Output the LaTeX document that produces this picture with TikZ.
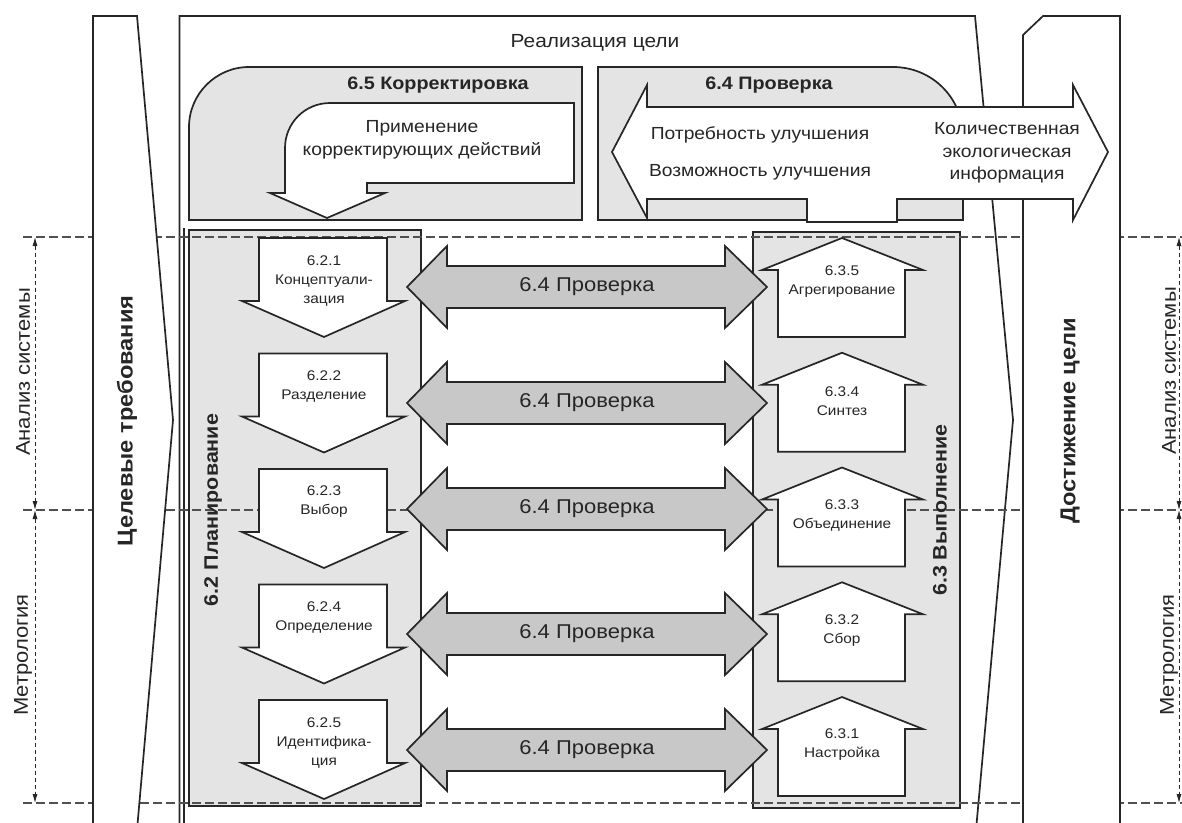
\documentclass[tikz,border=0pt]{standalone}
\usepackage{fontspec}
\setmainfont{Liberation Sans}[FakeStretch=1.1]
\usetikzlibrary{arrows.meta}
\definecolor{ink}{HTML}{262626}
\definecolor{boxgray}{HTML}{E4E4E4}
\definecolor{arrgray}{HTML}{C8C8C8}
\definecolor{dashc}{HTML}{505050}
\begin{document}
\begin{tikzpicture}[x=1pt,y=-1pt,
  outl/.style={draw=ink, line width=1.7pt, line join=miter},
  dashl/.style={draw=dashc, line width=1.1pt, dash pattern=on 9pt off 4pt},
  diml/.style={draw=ink, line width=0.8pt, dash pattern=on 4pt off 3pt},
  txt/.style={inner sep=0pt, text=ink, align=center},
  smalltxt/.style={txt, font=\fontsize{14}{19}\selectfont},
  midtxt/.style={txt, font=\fontsize{17.5}{22.5}\selectfont},
  bigtxt/.style={txt, font=\fontsize{19}{23}\selectfont},
  chktxt/.style={txt, font=\fontsize{20}{24}\selectfont},
  titletxt/.style={txt, font=\bfseries\fontsize{18}{22}\selectfont},
  sidetxt/.style={txt, rotate=90, font=\bfseries\fontsize{21.5}{26}\selectfont},
  grptxt/.style={txt, rotate=90, font=\bfseries\fontsize{19.5}{24}\selectfont},
  dimtxt/.style={txt, rotate=90, font=\fontsize{20}{24}\selectfont},
  tips/.style={{Latex[length=9pt,width=5pt]}-{Latex[length=9pt,width=5pt]}}
]
\useasboundingbox (0,0) rectangle (1182,822);
\clip (0,0) rectangle (1182,822);
\fill[white] (0,0) rectangle (1182,822);

% big frame "Реализация цели"
\draw[outl] (179.5,830) -- (179.5,16) -- (975,16) -- (1013,420) -- (976,830);
\draw[outl] (184,228) -- (184,830);

% gray boxes
\draw[outl, fill=boxgray] (189,220) -- (189,127) .. controls (189,94) and (216,67) .. (249,67) -- (582,67) -- (582,220) -- cycle;
\draw[outl, fill=boxgray] (598,220) -- (598,67) -- (893,67) .. controls (932,67) and (963,98) .. (963,137) -- (963,220) -- cycle;
\draw[outl, fill=boxgray] (189,230) rectangle (421,806);
\draw[outl, fill=boxgray] (753,232) rectangle (960,808);

% dashed level lines
\draw[dashl] (23,237) -- (1182,237);
\draw[dashl] (23,510) -- (1182,510);
\draw[dashl] (23,803) -- (1182,803);

% dimension lines
\coordinate (la) at (35,237);
\coordinate (lb) at (35,510);
\coordinate (lc) at (35,803);
\coordinate (ra) at (1179,237);
\coordinate (rb) at (1179,510);
\coordinate (rc) at (1179,803);
\draw[diml, tips] (la) -- (lb);
\draw[diml, tips] (lb) -- (lc);
\draw[diml, tips] (ra) -- (rb);
\draw[diml, tips] (rb) -- (rc);
\node[dimtxt] (lan) at (23,372) {Анализ системы};
\node[dimtxt] (lmet) at (23,655) {Метрология};
\node[dimtxt] (ran) at (1169,371) {Анализ системы};
\node[dimtxt] (rmet) at (1169,655) {Метрология};

% side bars
\draw[outl, fill=white] (93,830) -- (93,16) -- (137,16) -- (173,420) -- (137,830);
\draw[outl, fill=white] (1023,830) -- (1023,35) -- (1043,16) -- (1120,16) -- (1120,830);
\node[sidetxt] (req) at (127,421) {Целевые требования};
\node[sidetxt] (ach) at (1070,421) {Достижение цели};

% top texts
\node[bigtxt] (real) at (595,43) {Реализация цели};
\node[titletxt] (corr) at (438,85) {6.5 Корректировка};
\node[titletxt] (chk) at (769,85) {6.4 Проверка};

% bent arrow in 6.5
\draw[outl, fill=white] (574,103) -- (574,183) -- (367,183) -- (367,193) -- (385,193) -- (327,218) -- (270,193) -- (285,193) -- (285,148) .. controls (285,123) and (305,103) .. (330,103) -- cycle;
\node[midtxt] (apply) at (422,140) {Применение\\корректирующих действий};

% double arrow in 6.4
\draw[outl, fill=white] (612,152) -- (647,85) -- (647,107) -- (1073,107) -- (1073,85) -- (1108,152) -- (1073,220) -- (1073,199) -- (897,199) -- (897,222) -- (807,222) -- (807,199) -- (647,199) -- (647,218) -- cycle;
\node[midtxt] (need) at (760,135) {Потребность улучшения};
\node[midtxt] (poss) at (760,172) {Возможность улучшения};
\node[midtxt] (qinfo) at (1007,153) {Количественная\\экологическая\\информация};

% group labels
\node[grptxt] (plan) at (213,510) {6.2 Планирование};
\node[grptxt] (exec) at (940,510) {6.3 Выполнение};

% planning arrows (down)
\foreach \i/\lab/\dy in {0/{6.2.1\\Концептуали-\\зация}/43,1/{6.2.2\\Разделение}/33,2/{6.2.3\\Выбор}/33,3/{6.2.4\\Определение}/33,4/{6.2.5\\Идентифика-\\ция}/43}{
  \pgfmathsetmacro\T{238+115.5*\i}
  \draw[outl, fill=white] (259,\T) -- (387,\T) -- (387,\T+63) -- (405,\T+63) -- (324,\T+99) -- (242,\T+63) -- (259,\T+63) -- cycle;
  \node[smalltxt] (pl\i) at (324,\T+\dy) {\lab};
}

% execution houses (up)
\foreach \k/\lab/\dy in {0/{6.3.5\\Агрегирование}/44,1/{6.3.4\\Синтез}/48,2/{6.3.3\\Объединение}/48,3/{6.3.2\\Сбор}/48,4/{6.3.1\\Настройка}/48}{
  \pgfmathsetmacro\Q{238+114.75*\k}
  \draw[outl, fill=white] (842,\Q) -- (923,\Q+32) -- (905,\Q+32) -- (905,\Q+99) -- (778,\Q+99) -- (778,\Q+32) -- (762,\Q+32) -- cycle;
  \node[smalltxt] (ex\k) at (842,\Q+\dy) {\lab};
}

% 6.4 check double arrows
\foreach \j/\C in {1/287,2/403,3/509,4/634,5/750}{
  \draw[outl, fill=arrgray] (407,\C) -- (447,\C-41) -- (447,\C-21) -- (725,\C-21) -- (725,\C-41) -- (767,\C) -- (725,\C+41) -- (725,\C+21) -- (447,\C+21) -- (447,\C+41) -- cycle;
  \node[chktxt] (ck\j) at (587,\C) {6.4 Проверка};
}
\end{tikzpicture}
\end{document}
